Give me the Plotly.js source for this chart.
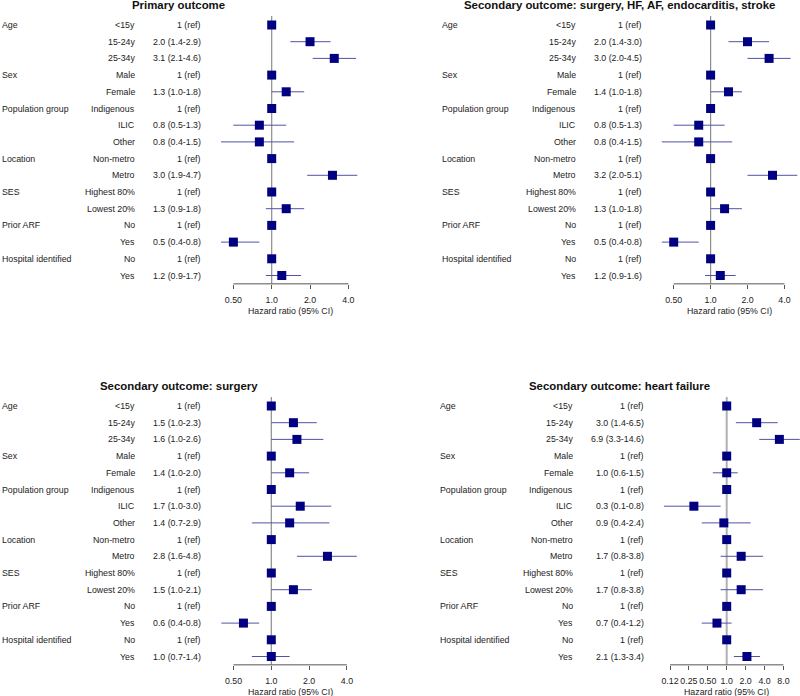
<!DOCTYPE html>
<html>
<head>
<meta charset="utf-8">
<script src="https://cdn.plot.ly/plotly-3.0.1.min.js"></script>
<style>html,body{margin:0;padding:0;background:#fff;}#chart{width:800px;height:696px;}</style>
</head>
<body>
<div id="chart"></div>
<script>
// ---------- DATA ----------
const groupLabels = ["Age","","","Sex","","Population group","","","Location","","SES","","Prior ARF","","Hospital identified",""];
const subLabels = ["<15y","15-24y","25-34y","Male","Female","Indigenous","ILIC","Other","Non-metro","Metro","Highest 80%","Lowest 20%","No","Yes","No","Yes"];

const titles = [
  "Primary outcome",
  "Secondary outcome: surgery, HF, AF, endocarditis, stroke",
  "Secondary outcome: surgery",
  "Secondary outcome: heart failure"
];

const primaryHR  = [1,2.0,3.1,1,1.3,1,0.8,0.8,1,3.0,1,1.3,1,0.5,1,1.2];
const primaryLo  = [1,1.4,2.1,1,1.0,1,0.5,0.4,1,1.9,1,0.9,1,0.4,1,0.9];
const primaryHi  = [1,2.9,4.6,1,1.8,1,1.3,1.5,1,4.7,1,1.8,1,0.8,1,1.7];
const primaryTxt = ["1 (ref)","2.0 (1.4-2.9)","3.1 (2.1-4.6)","1 (ref)","1.3 (1.0-1.8)","1 (ref)","0.8 (0.5-1.3)","0.8 (0.4-1.5)","1 (ref)","3.0 (1.9-4.7)","1 (ref)","1.3 (0.9-1.8)","1 (ref)","0.5 (0.4-0.8)","1 (ref)","1.2 (0.9-1.7)"];

const compositeHR  = [1,2.0,3.0,1,1.4,1,0.8,0.8,1,3.2,1,1.3,1,0.5,1,1.2];
const compositeLo  = [1,1.4,2.0,1,1.0,1,0.5,0.4,1,2.0,1,1.0,1,0.4,1,0.9];
const compositeHi  = [1,3.0,4.5,1,1.8,1,1.3,1.5,1,5.1,1,1.8,1,0.8,1,1.6];
const compositeTxt = ["1 (ref)","2.0 (1.4-3.0)","3.0 (2.0-4.5)","1 (ref)","1.4 (1.0-1.8)","1 (ref)","0.8 (0.5-1.3)","0.8 (0.4-1.5)","1 (ref)","3.2 (2.0-5.1)","1 (ref)","1.3 (1.0-1.8)","1 (ref)","0.5 (0.4-0.8)","1 (ref)","1.2 (0.9-1.6)"];

const surgeryHR  = [1,1.5,1.6,1,1.4,1,1.7,1.4,1,2.8,1,1.5,1,0.6,1,1.0];
const surgeryLo  = [1,1.0,1.0,1,1.0,1,1.0,0.7,1,1.6,1,1.0,1,0.4,1,0.7];
const surgeryHi  = [1,2.3,2.6,1,2.0,1,3.0,2.9,1,4.8,1,2.1,1,0.8,1,1.4];
const surgeryTxt = ["1 (ref)","1.5 (1.0-2.3)","1.6 (1.0-2.6)","1 (ref)","1.4 (1.0-2.0)","1 (ref)","1.7 (1.0-3.0)","1.4 (0.7-2.9)","1 (ref)","2.8 (1.6-4.8)","1 (ref)","1.5 (1.0-2.1)","1 (ref)","0.6 (0.4-0.8)","1 (ref)","1.0 (0.7-1.4)"];

const hfHR  = [1,3.0,6.9,1,1.0,1,0.3,0.9,1,1.7,1,1.7,1,0.7,1,2.1];
const hfLo  = [1,1.4,3.3,1,0.6,1,0.1,0.4,1,0.8,1,0.8,1,0.4,1,1.3];
const hfHi  = [1,6.5,14.6,1,1.5,1,0.8,2.4,1,3.8,1,3.8,1,1.2,1,3.4];
const hfTxt = ["1 (ref)","3.0 (1.4-6.5)","6.9 (3.3-14.6)","1 (ref)","1.0 (0.6-1.5)","1 (ref)","0.3 (0.1-0.8)","0.9 (0.4-2.4)","1 (ref)","1.7 (0.8-3.8)","1 (ref)","1.7 (0.8-3.8)","1 (ref)","0.7 (0.4-1.2)","1 (ref)","2.1 (1.3-3.4)"];

const tickVals4 = [0.5,1,2,4];
const tickText4 = ["0.50","1.0","2.0","4.0"];
const tickVals7 = [0.125,0.25,0.5,1,2,4,8];
const tickText7 = ["0.12","0.25","0.50","1.0","2.0","4.0","8.0"];
const axisTitle = "Hazard ratio (95% CI)";

// ---------- LAYOUT CONSTANTS ----------
const W = 800, H = 696;
const FONT = "Liberation Sans, Arial, Helvetica, sans-serif";
const TXT = "#222222";
const FS = 8.8;
const rowStep = 16.7;

const panels = [
  {hr:primaryHR, lo:primaryLo, hi:primaryHi, txt:primaryTxt, title:titles[0], tv:tickVals4, tt:tickText4,
   dom:[205,398], onePx:271.7, perDbl:38.33, row1:25, groupX:1, subX:136, estX:202, titleX:178.7, refC:"#8c8c8c", refW:1.2},
  {hr:compositeHR, lo:compositeLo, hi:compositeHi, txt:compositeTxt, title:titles[1], tv:tickVals4, tt:tickText4,
   dom:[650,800], onePx:710.6, perDbl:36.9, row1:25, groupX:441, subX:576.7, estX:642.7, titleX:619.3, refC:"#8c8c8c", refW:1.2},
  {hr:surgeryHR, lo:surgeryLo, hi:surgeryHi, txt:surgeryTxt, title:titles[2], tv:tickVals4, tt:tickText4,
   dom:[205,398], onePx:271.3, perDbl:37.8, row1:406, groupX:1, subX:136, estX:202, titleX:178.6, refC:"#8c8c8c", refW:1.2},
  {hr:hfHR, lo:hfLo, hi:hfHi, txt:hfTxt, title:titles[3], tv:tickVals7, tt:tickText7,
   dom:[650,800], onePx:726.7, perDbl:18.9, row1:406, groupX:439, subX:574, estX:645, titleX:619.2, refC:"#b0b0b0", refW:2}
];

const rowsIdx = subLabels.map((_, i) => i + 1);
const traces = [];
const annotations = [];
const shapes = [];
const layout = {
  width: W, height: H,
  margin: {l:0, r:0, t:0, b:0},
  paper_bgcolor: "#ffffff", plot_bgcolor: "rgba(0,0,0,0)",
  showlegend: false,
  font: {family: FONT, size: FS, color: TXT},
  annotations: annotations, shapes: shapes
};

panels.forEach((p, k) => {
  const n = k + 1;
  const xa = n === 1 ? "x" : "x" + n;
  const ya = n === 1 ? "y" : "y" + n;
  const xKey = n === 1 ? "xaxis" : "xaxis" + n;
  const yKey = n === 1 ? "yaxis" : "yaxis" + n;
  const perDec = p.perDbl / Math.log10(2);
  const lo = (p.dom[0] - p.onePx) / perDec;
  const hi = (p.dom[1] - p.onePx) / perDec;
  const topPx = p.row1 - 25, botPx = p.row1 + 275;
  const yTop = 1 + (topPx - p.row1) / rowStep;
  const yBot = 1 + (botPx - p.row1) / rowStep;
  const axisPx = p.row1 + 15.5 * rowStep;

  layout[xKey] = {
    type: "log", domain: [p.dom[0] / W, p.dom[1] / W], range: [lo, hi],
    anchor: "free", position: 1 - axisPx / H,
    showgrid: false, zeroline: false, showline: false,
    tickmode: "array", tickvals: p.tv, ticktext: p.tt, tickangle: 0,
    ticks: "outside", ticklen: 4, tickwidth: 1, tickcolor: "#555555",
    tickfont: {family: FONT, size: FS, color: TXT},
    ticklabelstandoff: 4
  };
  layout[yKey] = {
    domain: [1 - botPx / H, 1 - topPx / H], range: [yBot, yTop],
    visible: false, showgrid: false, zeroline: false, anchor: xa
  };

  shapes.push({type: "line", xref: xa, yref: ya, x0: 1, x1: 1, y0: 0.46, y1: 16.5,
               line: {color: p.refC, width: p.refW}, layer: "below"});
  shapes.push({type: "line", xref: xa, yref: ya, x0: p.tv[0], x1: p.tv[p.tv.length - 1], y0: 16.5, y1: 16.5,
               line: {color: "#555555", width: 1}, layer: "below"});

  traces.push({
    type: "scatter", mode: "markers", xaxis: xa, yaxis: ya,
    x: p.hr, y: rowsIdx,
    marker: {symbol: "square", size: 9, color: "#000080", line: {width: 0}},
    error_x: {type: "data", symmetric: false,
              array: p.hi.map((v, i) => v - p.hr[i]),
              arrayminus: p.hr.map((v, i) => v - p.lo[i]),
              color: "#5252a8", thickness: 1, width: 0},
    hoverinfo: "skip", cliponaxis: false
  });

  rowsIdx.forEach((r, i) => {
    if (groupLabels[i]) annotations.push({xref: "paper", yref: ya, x: p.groupX / W, y: r, xanchor: "left", yanchor: "middle",
      text: groupLabels[i], showarrow: false, font: {family: FONT, size: FS, color: TXT}, borderpad: 0});
    annotations.push({xref: "paper", yref: ya, x: p.subX / W, y: r, xanchor: "right", yanchor: "middle",
      text: subLabels[i], showarrow: false, font: {family: FONT, size: FS, color: TXT}, borderpad: 0});
    annotations.push({xref: "paper", yref: ya, x: p.estX / W, y: r, xanchor: "right", yanchor: "middle",
      text: p.txt[i], showarrow: false, font: {family: FONT, size: FS, color: TXT}, borderpad: 0});
  });

  annotations.push({xref: "paper", yref: "paper", x: p.titleX / W, y: 1 - (p.row1 - 20) / H,
    xanchor: "center", yanchor: "middle", text: "<b>" + p.title + "</b>", showarrow: false,
    font: {family: FONT, size: 11.4, color: "#111111"}, borderpad: 0});

  const mid = Math.sqrt(p.tv[0] * p.tv[p.tv.length - 1]);
  annotations.push({xref: xa, yref: "paper", x: Math.log10(mid), y: 1 - (axisPx + 27) / H,
    xanchor: "center", yanchor: "middle", text: axisTitle, showarrow: false,
    font: {family: FONT, size: FS, color: TXT}, borderpad: 0});
});

Plotly.newPlot("chart", traces, layout, {displayModeBar: false, staticPlot: true});
</script>
</body>
</html>
